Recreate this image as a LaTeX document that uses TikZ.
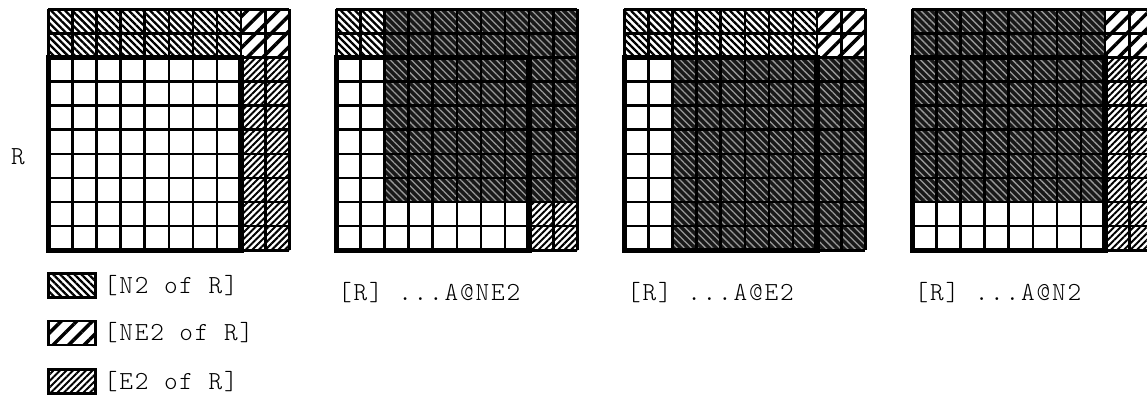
\documentclass[tikz,border=0pt]{standalone}
\usepackage{fontspec}
\newfontfamily\monofont[LetterSpace=7]{Latin Modern Mono Light}
\usetikzlibrary{patterns.meta, positioning}

\tikzset{
  n2cell/.style={pattern={Lines[angle=-45, distance=5pt, line width=2.3pt]}},
  ne2cell/.style={pattern={Lines[angle=45, distance=11pt, line width=3.5pt]}},
  e2cell/.style={pattern={Lines[angle=45, distance=4.6pt, line width=2pt]}},
  shiftcell/.style={fill=black!90,
    postaction={pattern={Lines[angle=-45, distance=5pt, line width=1.3pt]}, pattern color=black!40}},
  gridline/.style={line width=2.6pt, step=24.1pt},
  rbox/.style={line width=5.5pt},
  swatch/.style={draw, line width=2.5pt, minimum width=47pt, minimum height=24pt, inner sep=0pt},
  lbl/.style={inner sep=0pt}
}
% thin cell lines plus the thick box round R
\newcommand{\cellgrid}{%
  \draw[gridline] (0,0) grid (10,10);
  \draw[rbox] (0,0) rectangle (8,8);}

\begin{document}
\begin{tikzpicture}[x=1pt, y=1pt, font=\monofont\fontsize{26}{30}\selectfont]
\useasboundingbox (0,0) rectangle (1147,398);

% R with its neighbours
\begin{scope}[shift={(48.3,147.7)}, x=24.1pt, y=24.1pt]
  \fill[n2cell] (0,8) rectangle (8,10);
  \fill[ne2cell] (8,8) rectangle (10,10);
  \fill[e2cell] (8,0) rectangle (10,8);
  \cellgrid
\end{scope}
\node[lbl] (rlab) at (18,241) {R};

% A@NE2
\begin{scope}[shift={(336.3,147.7)}, x=24.1pt, y=24.1pt]
  \fill[n2cell] (0,8) rectangle (2,10);
  \fill[e2cell] (8,0) rectangle (10,2);
  \fill[shiftcell] (2,2) rectangle (10,10);
  \cellgrid
\end{scope}
\node[lbl, anchor=west] (labne2) at (338,105) {[R] ...A@NE2};

% A@E2
\begin{scope}[shift={(624.3,147.7)}, x=24.1pt, y=24.1pt]
  \fill[n2cell] (0,8) rectangle (8,10);
  \fill[ne2cell] (8,8) rectangle (10,10);
  \fill[shiftcell] (2,0) rectangle (10,8);
  \cellgrid
\end{scope}
\node[lbl, anchor=west] (labe2) at (627,105) {[R] ...A@E2};

% A@N2
\begin{scope}[shift={(912.3,147.7)}, x=24.1pt, y=24.1pt]
  \fill[ne2cell] (8,8) rectangle (10,10);
  \fill[e2cell] (8,0) rectangle (10,8);
  \fill[shiftcell] (0,2) rectangle (8,10);
  \cellgrid
\end{scope}
\node[lbl, anchor=west] (labn2) at (914.5,105) {[R] ...A@N2};

% legend
\node[swatch, n2cell] (keyn2) at (72,112.5) {};
\node[swatch, ne2cell] (keyne2) at (72,65) {};
\node[swatch, e2cell] (keye2) at (72,16.5) {};
\node[lbl, right=7pt of keyn2] (legn2) {[N2 of R]};
\node[lbl, right=7pt of keyne2] (legne2) {[NE2 of R]};
\node[lbl, right=7pt of keye2] (lege2) {[E2 of R]};
\end{tikzpicture}
\end{document}
